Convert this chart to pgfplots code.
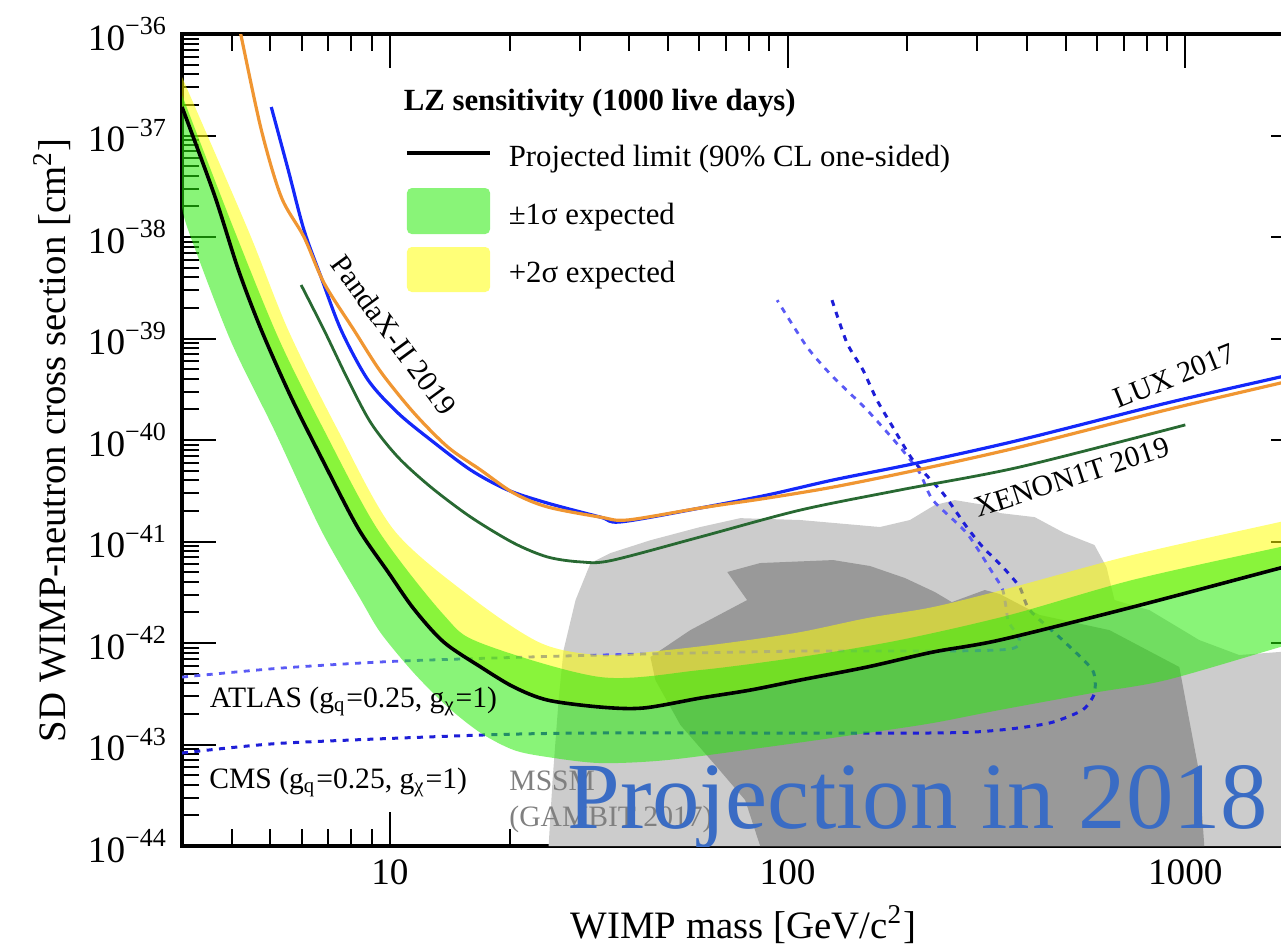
\documentclass[border=0pt]{standalone}
\usepackage{fontspec}
\setmainfont{Liberation Serif}
\usepackage{pgfplots}
\pgfplotsset{compat=1.18}
\definecolor{lzgreen}{RGB}{40,235,10}
\definecolor{lzyellow}{RGB}{255,255,0}
\definecolor{luxblue}{RGB}{20,40,250}
\definecolor{pxorange}{RGB}{240,150,50}
\definecolor{xegreen}{RGB}{40,105,50}
\definecolor{atlasblue}{RGB}{90,90,245}
\definecolor{cmsblue}{RGB}{30,30,215}
\definecolor{lgray}{RGB}{204,204,204}
\definecolor{dgray}{RGB}{153,153,153}
\definecolor{projblue}{RGB}{58,108,196}
\newcommand\tickfont{\fontsize{9.3}{11}\selectfont}
\newcommand\labfont{\fontsize{9.7}{11.5}\selectfont}
\newcommand\legfont{\fontsize{7.7}{9}\selectfont}
\newcommand\curvefont{\fontsize{7.4}{9}\selectfont}
\begin{document}
\begin{tikzpicture}
\begin{axis}[
  name=ax, at={(0,0)}, anchor=south west,
  scale only axis, width=280.75pt, height=203pt,
  xmode=log, ymode=log,
  xmin=3, xmax=2000, ymin=1e-44, ymax=1e-36,
  xtick={10,100,1000}, xticklabels={10,100,1000},
  minor xtick={4,5,6,7,8,9,20,30,40,50,60,70,80,90,200,300,400,500,600,700,800,900},
  ytick={1e-44,1e-43,1e-42,1e-41,1e-40,1e-39,1e-38,1e-37,1e-36},
  yticklabels={10\textsuperscript{−44},10\textsuperscript{−43},10\textsuperscript{−42},10\textsuperscript{−41},10\textsuperscript{−40},10\textsuperscript{−39},10\textsuperscript{−38},10\textsuperscript{−37},10\textsuperscript{−36}},
  minor ytick={2e-44,3e-44,4e-44,5e-44,6e-44,7e-44,8e-44,9e-44,
               2e-43,3e-43,4e-43,5e-43,6e-43,7e-43,8e-43,9e-43,
               2e-42,3e-42,4e-42,5e-42,6e-42,7e-42,8e-42,9e-42,
               2e-41,3e-41,4e-41,5e-41,6e-41,7e-41,8e-41,9e-41,
               2e-40,3e-40,4e-40,5e-40,6e-40,7e-40,8e-40,9e-40,
               2e-39,3e-39,4e-39,5e-39,6e-39,7e-39,8e-39,9e-39,
               2e-38,3e-38,4e-38,5e-38,6e-38,7e-38,8e-38,9e-38,
               2e-37,3e-37,4e-37,5e-37,6e-37,7e-37,8e-37,9e-37},
  tick pos=both, tick align=inside,
  major tick length=8.5pt, minor tick length=4.2pt,
  every tick/.style={black, line width=0.5pt},
  axis line style={line width=0.8pt},
  tick label style={font=\tickfont},
  xlabel={WIMP mass [GeV/c\textsuperscript{2}]},
  ylabel={SD WIMP-neutron cross section [cm\textsuperscript{2}]},
  xlabel style={font=\labfont, at={(axis description cs:0.5,-0.097)}, anchor=center},
  ylabel style={font=\labfont, at={(axis description cs:-0.1158,0.5)}, anchor=center},
  clip=true,
]
% MSSM GAMBIT 2017 regions
\addplot[draw=none, fill=lgray] coordinates {
 (25.06,1e-44) (25.64,4.47e-44) (26.55,2.74e-43) (27.33,8.53e-43) (29.29,2.65e-42)
 (31.95,6.14e-42) (35.85,7.70e-42) (45.18,1.03e-41) (60.31,1.39e-41) (76.0,1.70e-41)
 (107.5,1.63e-41) (170.7,1.39e-41) (203.0,1.63e-41) (234.5,2.29e-41) (263.2,2.56e-41)
 (313.1,2.29e-41) (341.5,1.91e-41) (418.0,1.74e-41) (497.1,1.21e-41) (591.0,9.24e-42)
 (633.5,5.61e-42) (663.5,2.65e-42) (812.2,2.11e-42) (1084,1.07e-42) (1366,7.62e-43)
 (2000,8.53e-43) (2000,1e-44)} -- cycle;
\addplot[draw=none, fill=dgray] coordinates {
 (85.3,1e-44) (78.2,2.84e-44) (65.77,6.28e-44) (53.73,1.56e-43) (46.50,4.32e-43)
 (45.18,7.28e-43) (56.92,1.34e-42) (79.1,2.65e-42) (70.50,5.01e-42) (85.3,6.14e-42)
 (130.1,6.57e-42) (161.1,5.74e-42) (197.2,4.37e-42) (234.5,3.18e-42) (258.7,2.53e-42)
 (313.1,3.33e-42) (341.5,3.04e-42) (430.2,1.89e-42) (644.6,1.34e-42) (965.9,5.80e-43)
 (1023,1.74e-43) (1084,5.24e-44) (1116,1e-44)} -- cycle;
% ATLAS and CMS
\addplot[atlasblue, line width=0.7pt, dash pattern=on 1.5pt off 1.6pt, smooth, tension=0.4] coordinates {
 (3,4.62e-43) (5.33,5.67e-43) (10.66,6.65e-43) (33.84,7.62e-43) (107.5,8.34e-43)
 (361.8,8.73e-43) (357.6,1.69e-42) (347.5,3.33e-42) (327.9,4.89e-42) (282.1,1.21e-41)
 (231.8,2.56e-41) (215.0,4.73e-41) (191.6,8.53e-41) (158.3,1.98e-40) (130.1,4.18e-40)
 (111.9,8.25e-40) (94.1,2.39e-39)};
\addplot[cmsblue, line width=0.75pt, dash pattern=on 1.5pt off 1.6pt, smooth, tension=0.4] coordinates {
 (3,8.25e-44) (5.33,1.03e-43) (16.92,1.24e-43) (33.84,1.30e-43) (231.8,1.30e-43)
 (341.5,1.39e-43) (455.9,1.63e-43) (551.4,2.19e-43) (591.0,3.22e-43) (584.2,5.42e-43)
 (491.3,1.07e-42) (406.1,2.11e-42) (383.3,3.56e-42) (347.5,5.61e-42) (309.5,8.83e-42)
 (282.1,1.39e-41) (245.6,3.0e-41) (206.5,6.35e-41) (183.9,1.34e-40) (167.7,2.48e-40)
 (154.7,4.89e-40) (141.0,9.03e-40) (129.3,2.39e-39)};
% LZ +2 sigma (median to +2 sigma)
\addplot[draw=none, fill=lzyellow, fill opacity=0.53, smooth, tension=0.5] coordinates {
 (3,3.77e-37) (4.40,1.17e-38) (5.55,1.21e-39) (7.40,1.25e-40) (10.23,1.30e-41)
 (15.97,2.84e-42) (23.93,1.0e-42) (33.84,7.62e-43) (49.85,8.53e-43) (72.98,1.02e-42)
 (107.5,1.28e-42) (158.3,1.76e-42) (231.8,2.26e-42) (361.8,3.48e-42) (736.2,7.36e-42)
 (1732,1.56e-41) (2000,1.78e-41)
 (2000,6.28e-42) (1732,5.48e-42) (736.2,2.26e-42) (341.5,1.07e-42) (231.8,8.15e-43)
 (158.3,5.80e-43) (107.5,4.32e-43) (80.5,3.44e-43) (60.31,2.87e-43) (43.39,2.29e-43)
 (33.84,2.34e-43) (24.92,2.74e-43) (20.48,3.69e-43) (16.92,5.80e-43) (13.66,1.02e-42)
 (11.49,2.16e-42) (9.89,5.01e-42) (8.31,1.36e-41) (6.83,5.93e-41) (5.64,2.65e-40)
 (4.75,1.21e-39) (4.16,4.73e-39) (3.62,2.59e-38) (3,1.91e-37)} -- cycle;
% LZ +-1 sigma
\addplot[draw=none, fill=lzgreen, fill opacity=0.55, smooth, tension=0.5] coordinates {
 (3,2.51e-37) (4.06,1.17e-38) (5.27,9.66e-40) (6.83,1.25e-40) (9.33,1.30e-41)
 (13.66,1.89e-42) (16.92,1.0e-42) (33.84,4.62e-43) (60.31,5.42e-43) (107.5,7.28e-43)
 (191.6,1.07e-42) (361.8,1.89e-42) (736.2,4.18e-42) (1732,8.83e-42) (2000,9.89e-42)
 (2000,1.07e-42) (1732,9.13e-43) (896.1,4.32e-43) (584.2,3.22e-43) (341.5,2.19e-43)
 (231.8,1.63e-43) (158.3,1.30e-43) (88.8,9.45e-44) (49.85,7.04e-44) (33.84,6.57e-44)
 (24.92,7.53e-44) (20.48,8.83e-44) (16.92,1.30e-43) (13.98,2.34e-43) (11.49,5.06e-43)
 (9.49,1.25e-42) (8.46,2.65e-42) (6.71,1.30e-41) (5.12,1.25e-40) (3.97,9.66e-40)
 (3.11,1.17e-38) (3,2.07e-38)} -- cycle;
% LZ projected limit
\addplot[black, line width=0.9pt, smooth, tension=0.5] coordinates {
 (3,1.91e-37) (3.62,2.59e-38) (4.16,4.73e-39) (4.75,1.21e-39) (5.64,2.65e-40)
 (6.83,5.93e-41) (8.31,1.36e-41) (9.89,5.01e-42) (11.49,2.16e-42) (13.66,1.02e-42)
 (16.92,5.80e-43) (20.48,3.69e-43) (24.92,2.74e-43) (33.84,2.34e-43) (43.39,2.29e-43)
 (60.31,2.87e-43) (80.5,3.44e-43) (107.5,4.32e-43) (158.3,5.80e-43) (231.8,8.15e-43)
 (341.5,1.07e-42) (736.2,2.26e-42) (1732,5.48e-42) (2000,6.28e-42)};
% XENON1T 2019
\addplot[xegreen, line width=0.7pt, smooth, tension=0.5] coordinates {
 (5.98,3.37e-39) (6.83,1.21e-39) (7.85,3.90e-40) (8.96,1.47e-40) (10.47,6.80e-41)
 (12.67,3.44e-41) (15.97,1.74e-41) (20.48,9.66e-42) (24.92,7.04e-42) (30.15,6.3e-42)
 (36,6.5e-42) (60.31,1.11e-41) (107.5,2.04e-41) (191.6,3.22e-41) (383.3,5.42e-41)
 (1000,1.41e-40)};
% LUX 2017
\addplot[luxblue, line width=0.8pt, smooth, tension=0.5] coordinates {
 (5.03,1.91e-37) (5.55,4.57e-38) (6.08,1.17e-38) (6.71,4.04e-39) (7.54,1.21e-39)
 (8.81,3.90e-40) (10.47,1.85e-40) (12.67,1.0e-40) (15.97,5.06e-41) (19.78,3.22e-41)
 (24.92,2.39e-41) (33.84,1.74e-41) (37.99,1.56e-41) (60.31,2.14e-41) (88.8,2.87e-41)
 (130.1,4.04e-41) (211.3,5.93e-41) (383.3,1.0e-40) (896.1,2.31e-40) (1732,4.18e-40)
 (2000,4.78e-40)};
% PandaX-II 2019
\addplot[pxorange, line width=0.8pt, smooth, tension=0.5] coordinates {
 (4.18,1.17e-36) (4.23,9.34e-37) (4.75,1.13e-37) (5.33,2.48e-38) (6.08,1.0e-38)
 (6.83,3.52e-39) (8.12,1.21e-39) (9.49,4.68e-40) (11.49,1.85e-40) (13.98,8.53e-41)
 (16.92,5.06e-41) (20.48,3.00e-41) (24.92,2.19e-41) (33.84,1.74e-41) (39.56,1.63e-41)
 (60.31,2.14e-41) (88.8,2.68e-41) (130.1,3.44e-41) (211.3,5.06e-41) (383.3,8.53e-41)
 (896.1,1.98e-40) (1732,3.64e-40) (2000,4.18e-40)};
% curve labels
\node[font=\curvefont, rotate=-53.7, inner sep=0pt] at (axis cs:10.23,1.08e-39) {PandaX-II 2019};
\node[font=\curvefont, rotate=22, inner sep=0pt] at (axis cs:938.6,4.27e-40) {LUX 2017};
\node[font=\curvefont, rotate=18, inner sep=0pt] at (axis cs:517.6,4.32e-41) {XENON1T 2019};
\node[font=\curvefont, anchor=base west, inner sep=0pt] at (axis cs:3.51,2.34e-43) {ATLAS (g\textsubscript{q}=0.25, g\textsubscript{χ}=1)};
\node[font=\curvefont, anchor=base west, inner sep=0pt] at (axis cs:3.50,3.73e-44) {CMS (g\textsubscript{q}=0.25, g\textsubscript{χ}=1)};
\node[font=\curvefont, text=gray, anchor=north west, align=left, inner sep=0pt] at (axis cs:19.89,5.61e-44) {MSSM\\(GAMBIT 2017)};
% legend
\node[font=\legfont\bfseries, anchor=base west, inner sep=0pt] at (axis description cs:0.1968,0.9064) {LZ sensitivity (1000 live days)};
\draw[black, line width=0.9pt] (axis description cs:0.2003,0.8534) -- (axis description cs:0.2743,0.8534);
\node[font=\legfont, anchor=base west, inner sep=0pt] at (axis description cs:0.2903,0.8374) {Projected limit (90\% CL one-sided)};
\fill[lzgreen, fill opacity=0.55, rounded corners=1.2pt] (axis description cs:0.2003,0.7537) rectangle (axis description cs:0.2743,0.8103);
\node[font=\legfont, anchor=base west, inner sep=0pt] at (axis description cs:0.2903,0.7660) {±1σ expected};
\fill[lzyellow, fill opacity=0.53, rounded corners=1.2pt] (axis description cs:0.2003,0.6823) rectangle (axis description cs:0.2743,0.7377);
\node[font=\legfont, anchor=base west, inner sep=0pt] at (axis description cs:0.2903,0.6946) {+2σ expected};
% overlay text
\node[font=\fontsize{23.7}{26}\selectfont, text=projblue, anchor=base west, inner sep=0pt] at (axis description cs:0.3428,0.0222) {Projection in 2018};
\end{axis}
\pgfresetboundingbox
\path[use as bounding box] ([shift={(-45.5pt,-25.5pt)}]ax.south west) rectangle ([shift={(274.75pt,211.5pt)}]ax.south west);
\end{tikzpicture}
\end{document}
